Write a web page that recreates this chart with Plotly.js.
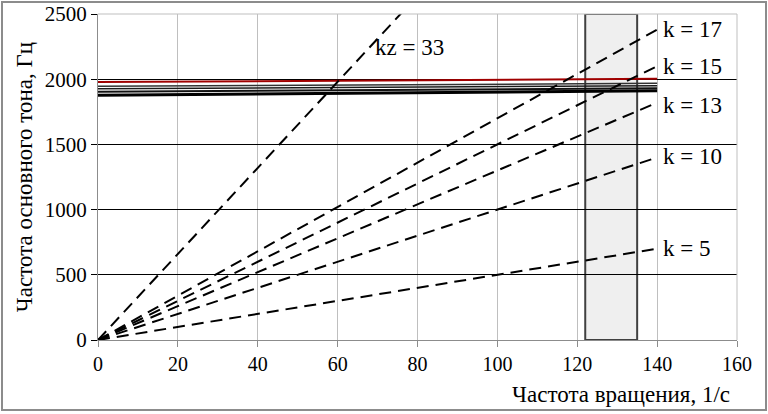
<!DOCTYPE html>
<html>
<head>
<meta charset="utf-8">
<script src="https://cdn.plot.ly/plotly-3.0.1.min.js"></script>
<style>html,body{margin:0;padding:0;background:#fff;}#chart{width:768px;height:414px;}</style>
</head>
<body>
<div id="chart"></div>
<div style="position:absolute;right:38px;top:381px;font-family:'Times New Roman';font-size:23px;line-height:28px;color:#000;white-space:nowrap;">Частота вращения, 1/с</div>
<div style="position:absolute;left:1px;top:1px;width:762px;height:406px;border:2px solid #8c8c8c;pointer-events:none;"></div>
<script>
// Rotation speed range, 1/s
const speedX = [0, 140];
// Harmonic orders (dashed rays)
const harmonicK = [5, 10, 13, 15, 17];
const harmonicLabels = ["k = 5", "k = 10", "k = 13", "k = 15", "k = 17"];
const harmonicLabelY = [698, 1404, 1802, 2094, 2378];
const kzOrder = 33;
const kzLabel = "kz = 33";
// Natural frequency lines (start, end), Hz
const modeY = [
  [1877, 1912],
  [1904, 1930],
  [1926, 1950],
  [1946, 1968]
];
const modeColors = ["#000000", "#111111", "#1a1a1a", "#333333"];
const modeWidths = [3, 2, 1.5, 1.5];
const redModeY = [1978, 2003];
// Operating band, 1/s
const bandX = [122, 135];
const xTicks = [0, 20, 40, 60, 80, 100, 120, 140, 160];
const yTicks = [0, 500, 1000, 1500, 2000, 2500];

const FAM = 'Times New Roman';
const traces = [];
modeY.forEach((ys, i) => {
  traces.push({x: speedX, y: ys, mode: 'lines', line: {color: modeColors[i], width: modeWidths[i]}});
});
traces.push({x: speedX, y: redModeY, mode: 'lines', line: {color: '#a00000', width: 2}});
harmonicK.forEach(k => {
  traces.push({x: speedX, y: speedX.map(v => v * k), mode: 'lines', line: {color: '#000', width: 2, dash: '12px,7px'}});
});
traces.push({x: speedX, y: speedX.map(v => v * kzOrder), mode: 'lines', line: {color: '#000', width: 2, dash: '12px,7px'}});

const annotations = harmonicLabels.map((t, i) => ({
  x: 140, y: harmonicLabelY[i], xref: 'x', yref: 'y', text: t, showarrow: false,
  xanchor: 'left', xshift: 4, font: {family: FAM, size: 23, color: '#000'}
}));
annotations.push({x: 78, y: 2240, xref: 'x', yref: 'y', text: kzLabel, showarrow: false, xanchor: 'center',
  font: {family: FAM, size: 23, color: '#000'}});

Plotly.newPlot('chart', traces, {
  width: 768, height: 414,
  margin: {l: 98, r: 31, t: 14, b: 74},
  showlegend: false,
  font: {family: FAM, size: 20, color: '#000'},
  xaxis: {
    range: [0, 160], tickvals: xTicks, ticktext: xTicks.map(String),
    showgrid: true, gridcolor: '#bfbfbf', gridwidth: 1,
    zeroline: false, showline: true, linecolor: '#8c8c8c', linewidth: 1,
    ticks: 'outside', ticklen: 6, tickcolor: '#8c8c8c',
    tickfont: {family: FAM, size: 20, color: '#000'}
  },
  yaxis: {
    range: [0, 2500], tickvals: yTicks, ticktext: yTicks.map(String),
    showgrid: true, gridcolor: '#000', gridwidth: 1,
    zeroline: false, showline: true, linecolor: '#8c8c8c', linewidth: 1,
    ticks: 'outside', ticklen: 6, tickcolor: '#000',
    tickfont: {family: FAM, size: 21, color: '#000'},
    title: {text: 'Частота основного тона, Гц', font: {family: FAM, size: 23, color: '#000'}, standoff: 5}
  },
  shapes: [
    {type: 'rect', xref: 'x', yref: 'y', x0: bandX[0], x1: bandX[1], y0: 0, y1: 2500,
     fillcolor: '#efefef', line: {color: '#404040', width: 2}, layer: 'below'},
    {type: 'line', xref: 'paper', yref: 'paper', x0: 0, x1: 1, y0: 1, y1: 1, line: {color: '#bfbfbf', width: 1}},
    {type: 'line', xref: 'paper', yref: 'paper', x0: 1, x1: 1, y0: 0, y1: 1, line: {color: '#bfbfbf', width: 1}}
  ],
  annotations: annotations
}, {staticPlot: true, displayModeBar: false});
</script>
</body>
</html>
